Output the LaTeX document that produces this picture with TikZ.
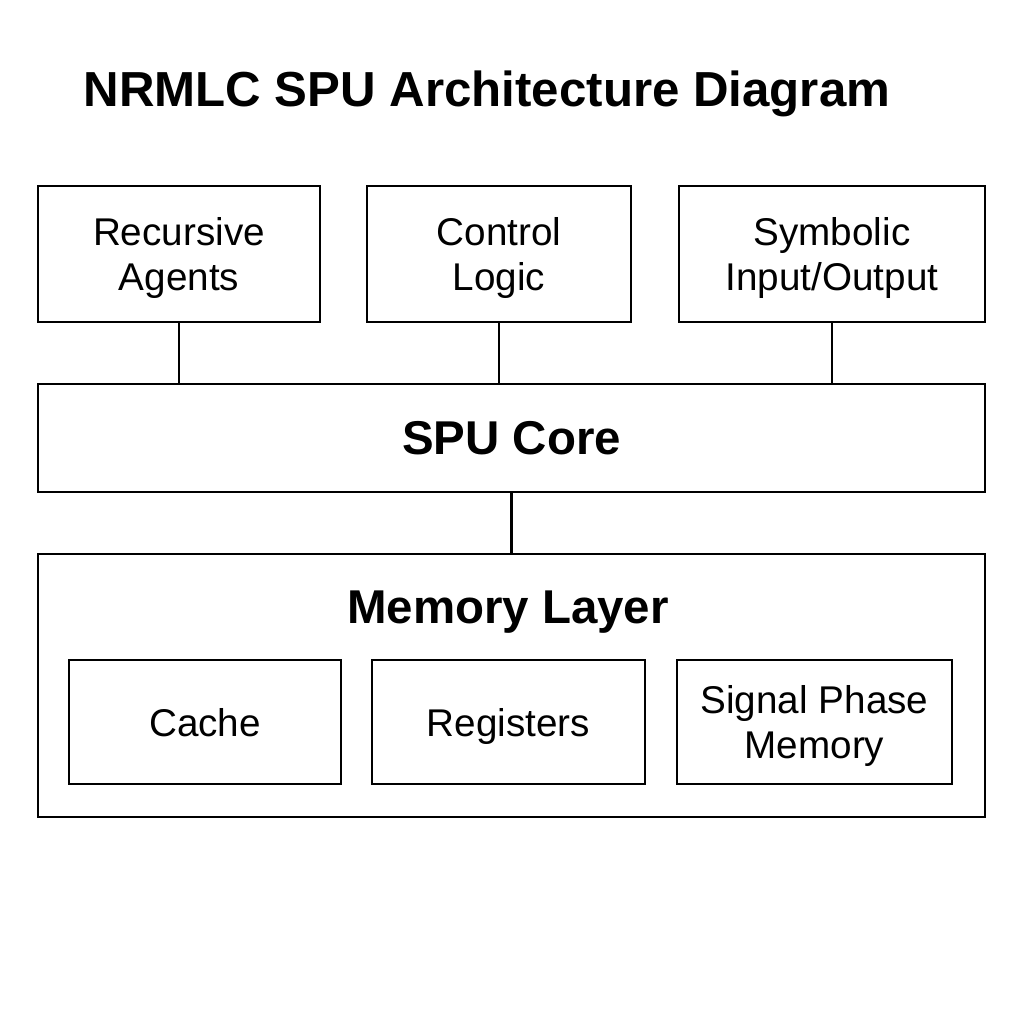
\documentclass[tikz,border=0pt]{standalone}
\usepackage{fontspec}
\setmainfont{Liberation Sans}
\usepackage{xcolor}

\begin{document}
\begin{tikzpicture}
\tikzstyle{component}=[rectangle,draw=black,line width=0.8pt,inner sep=0pt,text depth=0pt,align=center,font=\fontsize{11}{13}\selectfont]
\tikzstyle{heading}=[inner sep=0pt,font=\bfseries\fontsize{13.5}{16}\selectfont]

\useasboundingbox (0,0) rectangle (10.24,10.24);

\node[inner sep=0pt,font=\bfseries\fontsize{14}{17}\selectfont](Title) at (4.87,9.30){NRMLC SPU Architecture Diagram};

\node[component,minimum width=2.82cm,minimum height=1.36cm](Agents) at (1.79,7.70){Recursive\\Agents};
\node[component,minimum width=2.64cm,minimum height=1.36cm](Control) at (4.99,7.70){Control\\Logic};
\node[component,minimum width=3.06cm,minimum height=1.36cm](Symbolic) at (8.32,7.70){Symbolic\\Input/Output};
\node[component,minimum width=9.47cm,minimum height=1.08cm](Core) at (5.115,5.86){};
\node[heading](CoreLabel) at (5.115,5.86){SPU Core};
\node[component,minimum width=9.47cm,minimum height=2.63cm](Memory) at (5.115,3.385){};
\node[heading](MemoryLabel) at (5.08,4.12){Memory Layer};
\node[component,minimum width=2.72cm,minimum height=1.24cm](Cache) at (2.05,3.02){Cache};
\node[component,minimum width=2.73cm,minimum height=1.24cm](Registers) at (5.085,3.02){Registers};
\node[component,minimum width=2.75cm,minimum height=1.24cm](Signal) at (8.145,3.02){Signal Phase\\Memory};

\draw[line width=0.8pt] (Agents) -- (Agents |- Core.north);
\draw[line width=0.8pt] (Control) -- (Control |- Core.north);
\draw[line width=0.8pt] (Symbolic) -- (Symbolic |- Core.north);
\draw[line width=0.8pt] (Core) -- (Core |- Memory.north);

\end{tikzpicture}
\end{document}
